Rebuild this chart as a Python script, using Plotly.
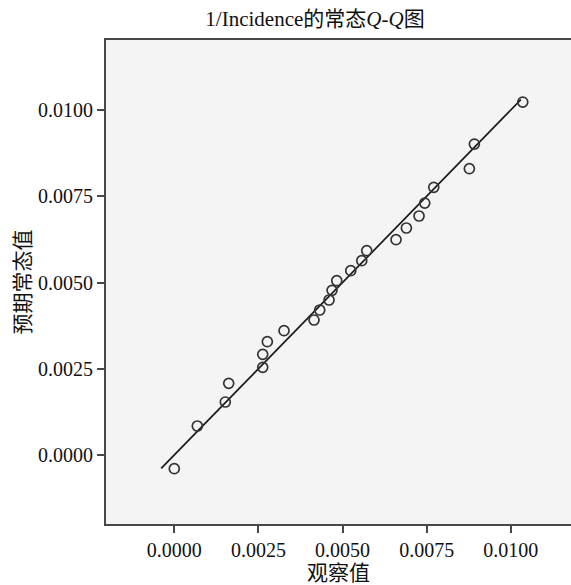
import plotly.graph_objects as go

# Observed values (x) and expected normal values (y)
observed = [0.0000, 0.000684, 0.001516, 0.001617, 0.002628, 0.002628, 0.002765, 0.003261,
            0.004153, 0.004322, 0.004599, 0.004688, 0.004828, 0.005244, 0.005571, 0.005719,
            0.006590, 0.006897, 0.007274, 0.007443, 0.007711, 0.008769, 0.008918, 0.010357]
expected = [-0.000397, 0.000841, 0.001536, 0.002078, 0.002542, 0.002919, 0.003284, 0.003603,
            0.003913, 0.004203, 0.004493, 0.004774, 0.005052, 0.005342, 0.005632, 0.005922,
            0.006241, 0.006580, 0.006928, 0.007304, 0.007759, 0.008299, 0.009014, 0.010232]
ref_line_x = [-0.00039, 0.01030]
ref_line_y = [-0.00039, 0.01030]
tick_vals = [0.0, 0.0025, 0.0050, 0.0075, 0.0100]
tick_text = ["0.0000", "0.0025", "0.0050", "0.0075", "0.0100"]

FONT = "Liberation Serif, Noto Sans CJK SC, serif"

fig = go.Figure()
fig.add_trace(go.Scatter(x=ref_line_x, y=ref_line_y, mode="lines",
                         line=dict(color="#1a1a1a", width=1.7), showlegend=False,
                         hoverinfo="skip"))
fig.add_trace(go.Scatter(x=observed, y=expected, mode="markers",
                         marker=dict(symbol="circle-open", size=10, color="#333333",
                                     line=dict(width=1.7, color="#333333")),
                         showlegend=False))

axis_common = dict(
    showgrid=False, zeroline=False, showline=True, linecolor="#484848", linewidth=2,
    mirror=True, ticks="outside", ticklen=7, tickwidth=1.5, tickcolor="#484848",
    tickvals=tick_vals, ticktext=tick_text, automargin=False,
    tickfont=dict(family=FONT, size=20, color="#111111"),
)

fig.update_layout(
    width=571, height=585,
    margin=dict(l=106, r=0, t=40, b=61),
    paper_bgcolor="white", plot_bgcolor="#f4f4f4",
    font=dict(family=FONT, color="#111111"),
    title=dict(text="1/Incidence的常态<i>Q</i>-<i>Q</i>图",
               x=315 / 571, xanchor="center", xref="container",
               y=1 - 19 / 585, yanchor="middle",
               font=dict(family=FONT, size=21, color="#111111")),
    xaxis=dict(range=[-0.00203, 0.01179],
               title=dict(text="观察值", standoff=0,
                          font=dict(family=FONT, size=21, color="#111111")),
               **axis_common),
    yaxis=dict(range=[-0.0020, 0.01203],
               title=dict(text="预期常态值", standoff=2,
                          font=dict(family=FONT, size=21, color="#111111")),
               **axis_common),
)

fig.write_html("out.html", config={"displayModeBar": False},
               post_script="document.body.style.margin='0px';document.body.style.overflow='hidden';")
